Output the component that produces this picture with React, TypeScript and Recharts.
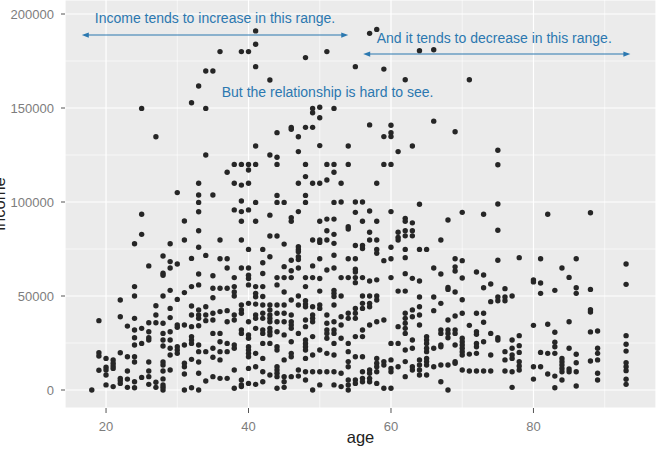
import { CartesianGrid, ReferenceDot, ReferenceLine, Scatter, ScatterChart, XAxis, YAxis } from 'recharts'

// [age, incomes in thousands]
type Column = [number, number[]]

const under30: Column[] = [
  [18, [0]],
  [19, [36.9, 19.8, 18.1, 10.5]],
  [20, [16.8, 12.1, 10.6, 8, 2.7]],
  [21, [16, 14.2, 12.8, 11.5, 1.8]],
  [22, [47.9, 39, 19.8, 6.2, 5, 3.5]],
  [23, [34, 17.7, 10.1, 5.8, 1.4]],
  [24, [77.8, 55, 50, 38.1, 31.9, 27.8, 23.9, 17.7, 14.9, 4.4, 1.2]],
  [25, [149.8, 93.5, 82.8, 32.8, 24.8, 6.7]],
  [26, [66, 35.8, 31, 27.8, 26.6, 14.9, 10.1, 7.1, 3]],
  [27, [134.7, 44.8, 39.9, 35.8, 4.1, 1.4]],
  [28, [71.3, 62.1, 61, 50, 35.5, 30.1, 26.6, 23.4, 14.9, 13.3, 10.1, 5.9, 2.7, 1.4, 0]],
  [29, [77.8, 68.3, 64.9, 53, 43.4, 38.5, 31, 26.6, 22.2, 18.6, 10.6]],
]

const thirties: Column[] = [
  [30, [105, 67, 48.2, 34.6, 33.4, 23, 21.3, 19.5]],
  [31, [89.9, 79.8, 51.8, 34.6, 23.9, 14.2, 12.4, 8.5, 0]],
  [32, [152.8, 70, 55, 44.7, 39.9, 33.7, 28.4, 26.6, 24.8, 16.3, 1.2]],
  [33, [161.7, 110, 103.7, 99.8, 94.8, 84.7, 75.9, 61.7, 55.9, 42.6, 39.9, 38.1, 34.2, 23.9, 20.4, 14.9, 8.9, 0]],
  [34, [169.7, 149.8, 125, 71.6, 44.3, 39.9, 36.9, 20.4, 4.8]],
  [35, [169.7, 103.7, 60.8, 54.1, 49.1, 40.8, 37.2, 30.1, 22.2, 17.4, 7.1]],
  [36, [180, 79.8, 69.8, 54.1, 41.7, 30.1, 25.7, 20.4, 16, 6.2]],
  [37, [115.8, 69.8, 64.9, 54.1, 42.2, 36.3, 24.8, 20.4, 6.2]],
  [38, [120, 110, 95.8, 59.8, 55, 52.1, 50, 39.9, 37.2, 23.9, 22.2, 10.6, 0.9]],
  [39, [180, 120, 109, 100.5, 94.9, 89.8, 79.8, 64.9, 45.2, 42.6, 40.8, 31.9, 30.1, 5.3, 2.7, 1.8]],
]

const forties: Column[] = [
  [40, [180, 120, 117, 110, 95.8, 74.8, 64.9, 61, 59.3, 55.9, 46.1, 36.3, 29.3, 27.5, 23, 21.3, 19.5, 17.7, 11.5, 3.5]],
  [41, [191, 183.9, 172, 129.8, 120, 99.8, 89.8, 55, 51.4, 49.6, 45.7, 39.9, 38.1, 32.8, 19.5, 12.4, 3]],
  [42, [74.8, 67.7, 62, 55, 49.7, 45.2, 40.8, 38.1, 31.9, 30.1, 24.8, 16.8, 9.7, 4.4]],
  [43, [164.9, 125, 93, 81.9, 70.9, 45.2, 42.6, 39.9, 38.1, 36.3, 32.8, 31, 29.3, 24.8, 8]],
  [44, [136.9, 123.8, 120, 103.5, 99.8, 81.9, 59.8, 55.9, 45.2, 40.8, 36.3, 31, 23, 21.3, 12.4, 10.6, 8.9, 7.1, 0.9]],
  [45, [99.8, 77.6, 65.6, 59.8, 52.1, 45.2, 40.8, 36.3, 29.3, 16, 7.1, 4.4, 1.4]],
  [46, [139.7, 138.7, 91.6, 89.8, 69, 63.4, 59.8, 47.9, 39.9, 36.3, 34.6, 32.8, 25.7, 19.5, 17.7, 7.1]],
  [47, [134.7, 126.8, 110, 94.9, 76.2, 74.8, 73.6, 70.9, 69.4, 64.9, 50, 45.2, 30.1, 10.6, 7.4]],
  [48, [176.8, 139.7, 120, 113.5, 103.5, 99.8, 59.8, 55, 47.5, 45.7, 44.3, 37.2, 33.7, 26.6, 24.8, 23, 21.3, 16.8, 9.7, 5.3]],
  [49, [149.8, 147.5, 139.7, 110, 79.8, 66, 59.8, 44.3, 39.9, 38.1, 36.3, 28.4, 18.6, 9.7, 0]],
]

const fifties: Column[] = [
  [50, [150.4, 144.8, 130, 110, 89.8, 79.8, 78.5, 69.8, 59.3, 52.6, 45.2, 43.4, 21.3, 9.7, 2.7]],
  [51, [180, 120, 111.7, 90.9, 84.7, 79.8, 63.8, 39.9, 35.5, 31.9, 30.1, 27.5, 19.5, 9.7]],
  [52, [149.8, 120, 115.8, 99.8, 90.9, 82.8, 78, 71.7, 64.9, 53, 51.4, 49.7, 45.2, 36.3, 31.9, 30.1, 24.8, 18.6, 9.7, 2.7]],
  [53, [110, 100, 59.8, 50, 39, 34.6, 27.5, 8.9, 1.8]],
  [54, [129.8, 120, 86.8, 85.6, 69.8, 59.8, 40.8, 38.1, 24.8, 20.4, 15.1, 12.4, 5.3, 2.7, 0]],
  [55, [172, 100, 94.5, 76.9, 69.8, 64.2, 62.8, 59.8, 57.1, 43.4, 40.8, 38.1, 28.4, 17.7, 5.3, 3.5]],
  [56, [100, 89.8, 76.9, 75.3, 59.8, 50, 46.1, 43.4, 31.9, 28.4, 17.7, 9.7, 6.2, 4.4]],
  [57, [189.7, 141, 95.2, 83.9, 79.8, 58, 50, 46.1, 44.3, 34.6, 10.6, 8.9, 6.2, 4.4]],
  [58, [191.8, 110, 89.8, 79.8, 74.8, 72.7, 58.6, 50, 47.9, 36.3, 16.8, 14.2, 12.4, 9.7, 3.5]],
  [59, [170.7, 134.8, 120, 68.8, 37.2, 15.1, 13.3, 0.9]],
]

const sixties: Column[] = [
  [60, [140.8, 136.9, 134.8, 120, 94.9, 75.9, 69.8, 59.8, 24.8, 16, 11.5, 9.7, 0.9]],
  [61, [126.8, 83.9, 81.2, 79.8, 52.6, 33.7, 24.8, 12.4]],
  [62, [165, 91.3, 89.8, 84.7, 82, 74.8, 70.4, 61.9, 52.6, 40.8, 38.1, 35.5, 32.8, 30.1, 21.3, 15.1, 7.1]],
  [63, [129.8, 88.9, 84.7, 82, 59.4, 42.6, 39, 26.6, 22.2, 12.4, 10.6]],
  [64, [180.5, 98.8, 74.8, 58, 49.5, 44.3, 39.9, 34.6, 16, 13.3, 10.6, 8]],
  [65, [74.8, 28.4, 26.6, 24.8, 22.2, 20.4, 16.8, 15.1, 13.3, 8]],
  [66, [181, 143, 64.9, 49.5, 42.2, 22.2, 12.4]],
  [67, [79.8, 61.7, 46.1, 31.9, 30.1, 23.9, 23, 13.3, 4.4]],
  [68, [90.4, 54.5, 53.5, 37.2, 31.9, 30.1, 27.8, 13.3, 0]],
  [69, [137.4, 69.8, 65.5, 63.3, 52.1, 39.4, 31.9, 30.1, 23.9, 15, 14.2]],
]

const over70: Column[] = [
  [70, [94.5, 68.8, 59.6, 48, 40.8, 27.5, 25.7, 24, 22.2, 20.4, 18.6, 10.6]],
  [71, [165, 34.4, 19.1, 10.1]],
  [72, [62.8, 40.8, 31, 29.6, 24.8, 23, 19.5, 10.1]],
  [73, [93.5, 61.2, 54.4, 40.8, 36, 25.7, 10.1]],
  [74, [56.4, 47, 30.1, 18.6, 10.1]],
  [75, [127.5, 119.8, 98.9, 85, 69, 49.5, 47.5, 27.8, 26.6]],
  [76, [53.9, 49.5, 47.5, 20.4, 16, 10.1]],
  [77, [50, 26.6, 22.2, 18.6, 16.8, 9.7, 1.4]],
  [78, [70.4, 28.9, 23.6, 20, 15, 12.8, 10.6]],
  [80, [58.5, 57.5, 34.4, 12.4, 5.8]],
  [81, [69.8, 56.9, 51.4, 20, 12.4]],
  [82, [93.5, 35, 19.5, 8.5]],
  [83, [53, 30.7, 25.4, 23, 19.5, 7.4, 1.2]],
  [84, [64.9, 16.8, 15, 13.3, 11.5, 9.7, 5.3]],
  [85, [59.9, 36.3, 22.2, 11.2, 9.7]],
  [86, [69.8, 54.4, 51.4, 19, 14.5, 9.7, 2.1]],
  [88, [94.3, 53.5, 42.7, 41.5, 30.9, 15.4]],
  [89, [31.4, 22.2, 19.5, 16, 8.9, 5.3]],
  [93, [67, 56.2, 28.9, 24.3, 20.7, 14.5, 12.4, 10.3, 5.7, 3]],
]

const xTicks = [20, 40, 60, 80]
const xMinor = [30, 50, 70, 90]
const yTicks = [0, 50000, 100000, 150000, 200000]
const yMinor = [25000, 75000, 125000, 175000]

const notes = [
  { age: 35.3, income: 197700, text: 'Income tends to increase in this range.' },
  { age: 74.5, income: 187100, text: 'And it tends to decrease in this range.' },
  { age: 51.1, income: 158700, text: 'But the relationship is hard to see.' },
]
const arrows = [
  { from: 16.6, to: 54, income: 188800 },
  { from: 56.1, to: 93.6, income: 178700 },
]

const points = [...under30, ...thirties, ...forties, ...fifties, ...sixties, ...over70].flatMap(([age, incomes]) =>
  incomes.map((k) => ({ age, income: k * 1000 })),
)

const BLUE = '#2b78b0'
const tickStyle = { fill: '#7d7d7d', fontSize: 13 }

function Dot(p: any) {
  return <circle cx={p.cx} cy={p.cy} r={2.7} fill="#262626" />
}

function DoubleArrow(p: any) {
  const { x1, y1, x2, y2 } = p
  const len = 7
  const half = 2.6
  return (
    <g>
      <line x1={x1 + 3} y1={y1} x2={x2 - 3} y2={y2} stroke={BLUE} strokeWidth={1.1} />
      <polygon points={`${x1},${y1} ${x1 + len},${y1 - half} ${x1 + len},${y1 + half}`} fill={BLUE} />
      <polygon points={`${x2},${y2} ${x2 - len},${y2 - half} ${x2 - len},${y2 + half}`} fill={BLUE} />
    </g>
  )
}

function YTitle(p: any) {
  const vb = p.viewBox
  return (
    <text transform="rotate(-90)" x={-(vb.y + vb.height / 2)} y={vb.x + 5} textAnchor="middle" fontSize={16.5} fill="#222">
      income
    </text>
  )
}

export default function App() {
  return (
    <div style={{ position: 'absolute', left: 0, top: 0, fontFamily: '"Liberation Sans", Arial, sans-serif' }}>
      <ScatterChart width={656} height={450} margin={{ top: 0, right: 0, bottom: 0, left: 0 }}>
        <CartesianGrid fill="#EBEBEB" stroke="#fff" strokeWidth={0.6} horizontalValues={yMinor} verticalValues={xMinor} />
        <CartesianGrid stroke="#fff" strokeWidth={1.2} />
        <XAxis
          dataKey="age"
          type="number"
          domain={[14.24, 97.2]}
          ticks={xTicks}
          allowDataOverflow
          height={42}
          axisLine={false}
          tickSize={5}
          tickMargin={9}
          tickLine={{ stroke: '#555' }}
          tick={tickStyle}
          label={{ value: 'age', position: 'insideBottom', offset: 7, fill: '#222', fontSize: 16.5 }}
        />
        <YAxis
          dataKey="income"
          type="number"
          domain={[-9574, 207447]}
          ticks={yTicks}
          allowDataOverflow
          width={65}
          axisLine={false}
          tickSize={4}
          tickMargin={7}
          tickLine={{ stroke: '#555' }}
          tick={tickStyle}
          label={{ content: YTitle }}
        />
        <Scatter data={points} shape={Dot} isAnimationActive={false} />
        {arrows.map((a) => (
          <ReferenceLine
            key={a.from}
            segment={[
              { x: a.from, y: a.income },
              { x: a.to, y: a.income },
            ]}
            shape={DoubleArrow}
          />
        ))}
        {notes.map((n) => (
          <ReferenceDot
            key={n.text}
            x={n.age}
            y={n.income}
            r={1}
            shape={(p: any) => (
              <text x={p.cx} y={p.cy} textAnchor="middle" dominantBaseline="central" fontSize={14} fill={BLUE}>
                {n.text}
              </text>
            )}
          />
        ))}
      </ScatterChart>
    </div>
  )
}
